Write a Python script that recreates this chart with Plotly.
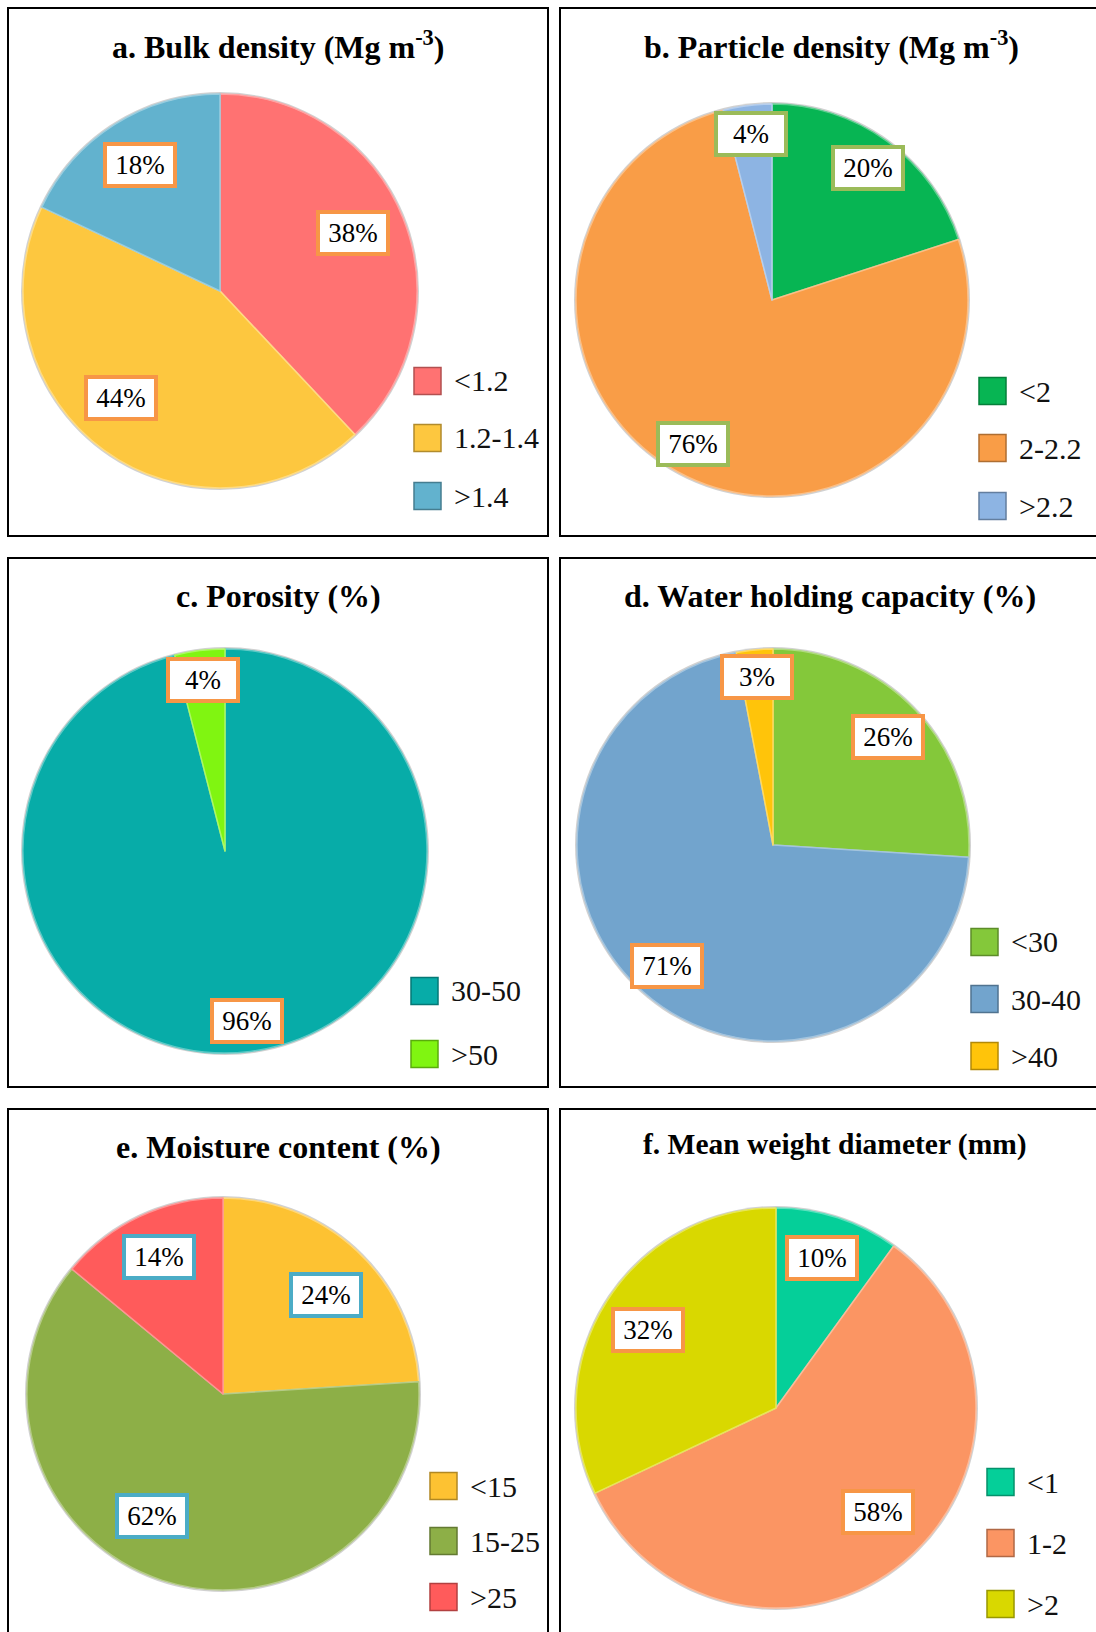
import math
import plotly.graph_objects as go

W, H = 1096, 1632

# ---- data -------------------------------------------------------------
titles = [
    "a. Bulk density (Mg m<sup>-3</sup>)",
    "b. Particle density (Mg m<sup>-3</sup>)",
    "c. Porosity (%)",
    "d. Water holding capacity (%)",
    "e. Moisture content (%)",
    "f. Mean weight diameter (mm)",
]

bulk_classes = ["<1.2", "1.2-1.4", ">1.4"]
bulk_pct = [38, 44, 18]

particle_classes = ["<2", "2-2.2", ">2.2"]
particle_pct = [20, 76, 4]

porosity_classes = ["30-50", ">50"]
porosity_pct = [96, 4]

whc_classes = ["<30", "30-40", ">40"]
whc_pct = [26, 71, 3]

moisture_classes = ["<15", "15-25", ">25"]
moisture_pct = [24, 62, 14]

mwd_classes = ["<1", "1-2", ">2"]
mwd_pct = [10, 58, 32]

# ---- styling / layout per panel ----------------------------------------
panels = [
    dict(labels=bulk_classes, values=bulk_pct,
         colors=["#FF7272", "#FDC73F", "#62B2CE"],
         box="#F79646", center=(220, 291), r=197,
         lab_r=[0.735, 0.74, 0.755], lab_shift=[-2, 7, 0],
         title_xy=(278, 45), title_size=32,
         leg_x=414, leg_y=[381, 438, 496]),
    dict(labels=particle_classes, values=particle_pct,
         colors=["#07B553", "#F99D47", "#8DB4E3"],
         box="#9BBB59", center=(772, 300), r=196,
         lab_r=[0.83, 0.84, 0.855], lab_shift=[0, 0, 0],
         title_xy=(831, 45), title_size=32,
         leg_x=979, leg_y=[391, 448, 506]),
    dict(labels=porosity_classes, values=porosity_pct,
         colors=["#07ACA8", "#80F511"],
         box="#F79646", center=(225, 851), r=202,
         lab_r=[0.85, 0.855], lab_shift=[0, 0],
         title_xy=(278, 596), title_size=32,
         leg_x=411, leg_y=[991, 1054]),
    dict(labels=whc_classes, values=whc_pct,
         colors=["#84C83A", "#72A4CD", "#FFC40A"],
         box="#F79646", center=(773, 845), r=196,
         lab_r=[0.805, 0.82, 0.86], lab_shift=[0, 0, 0],
         title_xy=(830, 596), title_size=32,
         leg_x=971, leg_y=[942, 999, 1056]),
    dict(labels=moisture_classes, values=moisture_pct,
         colors=["#FDC232", "#8DAF47", "#FF5B5B"],
         box="#4BACC6", center=(223, 1394), r=196,
         lab_r=[0.73, 0.72, 0.77], lab_shift=[3, 12, 0],
         title_xy=(278, 1147), title_size=32,
         leg_x=430, leg_y=[1486, 1541, 1597]),
    dict(labels=mwd_classes, values=mwd_pct,
         colors=["#05CF99", "#FB9563", "#D9D800"],
         box="#F79646", center=(776, 1408), r=200,
         lab_r=[0.785, 0.727, 0.747], lab_shift=[-1, -5, -1],
         title_xy=(835, 1144), title_size=29.5,
         leg_x=987, leg_y=[1482, 1543, 1604]),
]

# panel frames (pixel coordinates; right column and bottom row run off the page)
frames = [
    (8, 8, 548, 536), (560, 8, 1110, 536),
    (8, 558, 548, 1087), (560, 558, 1110, 1087),
    (8, 1109, 548, 1650), (560, 1109, 1110, 1650),
]

SERIF = "Liberation Serif"


def px(x):
    return x / W


def py(y):
    return 1 - y / H


def esc(s):
    return s.replace("<", "&lt;").replace(">", "&gt;")


def shade(hexcol, f):
    h = hexcol.lstrip("#")
    rgb = [int(h[i:i + 2], 16) for i in (0, 2, 4)]
    if f >= 0:
        rgb = [round(c + (255 - c) * f) for c in rgb]
    else:
        rgb = [round(c * (1 + f)) for c in rgb]
    return "rgb(%d,%d,%d)" % tuple(rgb)


fig = go.Figure()
shapes = []
annotations = []

for (x0, y0, x1, y1) in frames:
    shapes.append(dict(type="rect", xref="paper", yref="paper",
                       x0=px(x0), x1=px(x1), y0=py(y1), y1=py(y0),
                       line=dict(color="black", width=2), fillcolor="rgba(0,0,0,0)"))

for i, p in enumerate(panels):
    cx, cy = p["center"]
    r = p["r"]
    total = sum(p["values"])

    # soft rim behind the pie
    shapes.append(dict(type="circle", xref="paper", yref="paper", layer="below",
                       x0=px(cx - r - 2), x1=px(cx + r + 2),
                       y0=py(cy + r + 2), y1=py(cy - r - 2),
                       line=dict(width=0), fillcolor="rgba(0,0,0,0.18)"))

    fig.add_trace(go.Pie(
        labels=p["labels"], values=p["values"],
        sort=False, direction="clockwise", rotation=0,
        marker=dict(colors=p["colors"],
                    line=dict(color=[shade(c, 0.35) for c in p["colors"]], width=1.5)),
        textinfo="none", hoverinfo="label+percent", showlegend=False,
        domain=dict(x=[px(cx - r), px(cx + r)], y=[py(cy + r), py(cy - r)]),
    ))

    # percentage call-outs placed at each slice's middle angle
    cum = 0
    for j, v in enumerate(p["values"]):
        mid = (cum + v / 2) / total * 360 + p["lab_shift"][j]
        cum += v
        rr = r * p["lab_r"][j]
        lx = cx + rr * math.sin(math.radians(mid))
        ly = cy - rr * math.cos(math.radians(mid))
        annotations.append(dict(
            x=px(lx), y=py(ly), xref="paper", yref="paper",
            text=f"{v}%", showarrow=False,
            font=dict(family=SERIF, size=27, color="black"),
            bgcolor="white", bordercolor=p["box"], borderwidth=4, borderpad=4,
            width=58, height=30, xanchor="center", yanchor="middle",
        ))

    # title
    tx, ty = p["title_xy"]
    annotations.append(dict(
        x=px(tx), y=py(ty), xref="paper", yref="paper", showarrow=False,
        text=f"<b>{titles[i]}</b>", xanchor="center", yanchor="middle",
        font=dict(family=SERIF, size=p["title_size"], color="black"),
    ))

    # legend: coloured squares with class labels
    sq = 27
    for j, lab in enumerate(p["labels"]):
        yc = p["leg_y"][j]
        x0 = p["leg_x"]
        shapes.append(dict(type="rect", xref="paper", yref="paper",
                           x0=px(x0), x1=px(x0 + sq), y0=py(yc + sq / 2), y1=py(yc - sq / 2),
                           fillcolor=p["colors"][j],
                           line=dict(color=shade(p["colors"][j], -0.3), width=1.5)))
        annotations.append(dict(
            x=px(x0 + sq + 11), y=py(yc), xref="paper", yref="paper", showarrow=False,
            text=esc(lab), xanchor="left", yanchor="middle",
            font=dict(family=SERIF, size=30, color="#111111"),
        ))

fig.update_layout(
    width=W, height=H,
    margin=dict(l=0, r=0, t=0, b=0),
    paper_bgcolor="white", plot_bgcolor="white",
    font=dict(family=SERIF),
    shapes=shapes, annotations=annotations,
)

fig.write_html("out.html")
